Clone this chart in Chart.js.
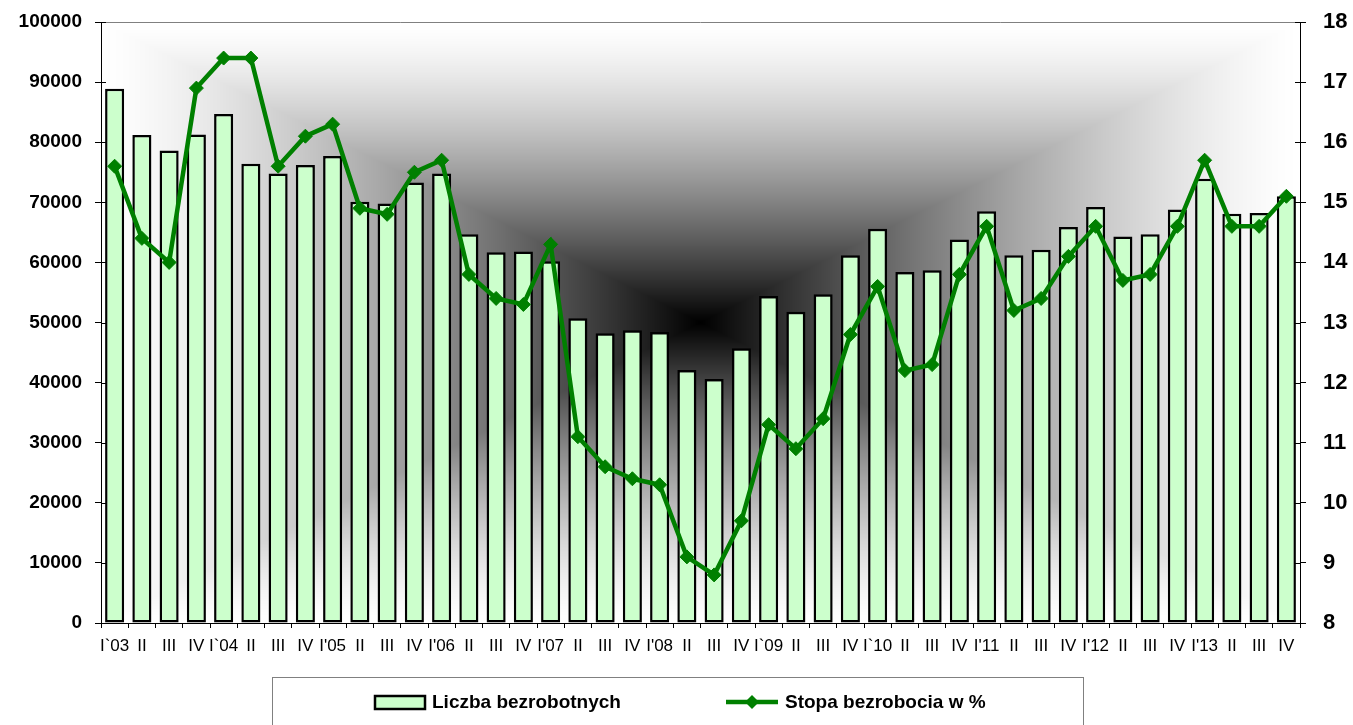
<!DOCTYPE html>
<html>
<head>
<meta charset="utf-8">
<title>Liczba bezrobotnych i stopa bezrobocia</title>
<script src="https://cdn.jsdelivr.net/npm/chart.js@4.4.1/dist/chart.umd.min.js"></script>
<style>
  html, body { margin: 0; padding: 0; background: #fff; }
  #wrap { width: 1353px; height: 725px; position: relative; }
</style>
</head>
<body>
<div id="wrap"><canvas id="chart"></canvas></div>
<script>
// quarters 2003 - 2013
const quarters = [
  "I`03", "II", "III", "IV", "I`04", "II", "III", "IV",
  "I'05", "II", "III", "IV", "I'06", "II", "III", "IV",
  "I'07", "II", "III", "IV", "I'08", "II", "III", "IV",
  "I`09", "II", "III", "IV", "I`10", "II", "III", "IV",
  "I'11", "II", "III", "IV", "I'12", "II", "III", "IV",
  "I'13", "II", "III", "IV"
];

// Liczba bezrobotnych (left axis)
const unemployed = [
  88900, 81200, 78600, 81300, 84700, 76400, 74800, 76200,
  77700, 70100, 69800, 73300, 74800, 64700, 61700, 61800,
  60200, 50700, 48200, 48700, 48400, 42100, 40600, 45700,
  54400, 51800, 54700, 61200, 65600, 58400, 58700, 63800,
  68500, 61200, 62100, 65900, 69200, 64300, 64700, 68800,
  73900, 68100, 68200, 71000
];

// Stopa bezrobocia w % (right axis)
const rate = [
  15.6, 14.4, 14.0, 16.9, 17.4, 17.4, 15.6, 16.1,
  16.3, 14.9, 14.8, 15.5, 15.7, 13.8, 13.4, 13.3,
  14.3, 11.1, 10.6, 10.4, 10.3, 9.1, 8.8, 9.7,
  11.3, 10.9, 11.4, 12.8, 13.6, 12.2, 12.3, 13.8,
  14.6, 13.2, 13.4, 14.1, 14.6, 13.7, 13.8, 14.6,
  15.7, 14.6, 14.6, 15.1
];

const countAxis = [0, 100000, 10000];   // min, max, step
const rateAxis = [8, 18, 1];

const FONT = "'Liberation Sans', Arial, sans-serif";
const BAR_FILL = "#CCFFCC";
const LINE_GREEN = "#008000";

// grey "from center" fill behind the plot
const backdrop = {
  id: "backdrop",
  beforeDraw(chart) {
    const a = chart.chartArea;
    const w = Math.round(a.right - a.left);
    const h = Math.round(a.bottom - a.top);
    if (!this.img || this.img.width !== w || this.img.height !== h) {
      const c = document.createElement("canvas");
      c.width = w;
      c.height = h;
      const g = c.getContext("2d");
      const img = g.createImageData(w, h);
      const hw = w / 2, hh = h / 2;
      for (let y = 0; y < h; y++) {
        for (let x = 0; x < w; x++) {
          const t = Math.min(1, Math.max(Math.abs(x + 0.5 - hw) / hw, Math.abs(y + 0.5 - hh) / hh));
          const v = Math.round(255 * (1 - Math.pow(1 - t, 1.4)));
          const i = (y * w + x) * 4;
          img.data[i] = v;
          img.data[i + 1] = v;
          img.data[i + 2] = v;
          img.data[i + 3] = 255;
        }
      }
      g.putImageData(img, 0, 0);
      this.img = c;
    }
    chart.ctx.drawImage(this.img, a.left, a.top);
  },
  beforeDatasetsDraw(chart) {
    const { ctx, chartArea: a, scales } = chart;
    ctx.save();
    // top frame line
    ctx.strokeStyle = "#808080";
    ctx.lineWidth = 1;
    ctx.beginPath();
    ctx.moveTo(a.left, a.top + 0.5);
    ctx.lineTo(a.right, a.top + 0.5);
    ctx.stroke();
    // inner halves of the value axis ticks
    ctx.strokeStyle = "#000";
    ctx.beginPath();
    scales.y.ticks.forEach((t) => {
      const py = Math.round(scales.y.getPixelForValue(t.value)) + 0.5;
      ctx.moveTo(a.left, py);
      ctx.lineTo(a.left + 5, py);
    });
    scales.y1.ticks.forEach((t) => {
      const py = Math.round(scales.y1.getPixelForValue(t.value)) + 0.5;
      ctx.moveTo(a.right - 5, py);
      ctx.lineTo(a.right, py);
    });
    ctx.stroke();
    ctx.restore();
  }
};

// boxed legend under the axis
const boxLegend = {
  id: "boxLegend",
  afterDraw(chart) {
    const ctx = chart.ctx;
    const [bars, line] = chart.data.datasets;
    const cy = 702;
    ctx.save();
    ctx.strokeStyle = "#808080";
    ctx.lineWidth = 1;
    ctx.strokeRect(272.5, 677.5, 811, 60);

    ctx.fillStyle = bars.backgroundColor;
    ctx.fillRect(375, cy - 6, 50, 13);
    ctx.strokeStyle = bars.borderColor;
    ctx.lineWidth = 2.5;
    ctx.strokeRect(375, cy - 6, 50, 13);

    ctx.strokeStyle = line.borderColor;
    ctx.lineWidth = 4.5;
    ctx.beginPath();
    ctx.moveTo(726, cy);
    ctx.lineTo(778, cy);
    ctx.stroke();
    ctx.fillStyle = line.borderColor;
    ctx.beginPath();
    ctx.moveTo(752, cy - 7);
    ctx.lineTo(759, cy);
    ctx.lineTo(752, cy + 7);
    ctx.lineTo(745, cy);
    ctx.closePath();
    ctx.fill();

    ctx.fillStyle = "#000";
    ctx.font = "bold 19px " + FONT;
    ctx.textBaseline = "middle";
    ctx.textAlign = "left";
    ctx.fillText(bars.label, 432, cy + 1);
    ctx.fillText(line.label, 785, cy + 1);
    ctx.restore();
  }
};

// value axes: fixed width, no extra room above/below for the end labels
function fixVertical(width) {
  return (s) => {
    s.width = width;
    s.paddingTop = 0;
    s.paddingBottom = 0;
  };
}

new Chart(document.getElementById("chart"), {
  type: "bar",
  data: {
    labels: quarters,
    datasets: [
      {
        label: "Liczba bezrobotnych",
        data: unemployed,
        yAxisID: "y",
        order: 2,
        backgroundColor: BAR_FILL,
        borderColor: "#000",
        borderWidth: 2.5,
        borderSkipped: false,
        barPercentage: 0.7,
        categoryPercentage: 1.0
      },
      {
        type: "line",
        label: "Stopa bezrobocia w %",
        data: rate,
        yAxisID: "y1",
        order: 1,
        borderColor: LINE_GREEN,
        backgroundColor: LINE_GREEN,
        borderWidth: 4.5,
        tension: 0,
        pointStyle: "rectRot",
        pointRadius: 7,
        pointBorderWidth: 1,
        pointBackgroundColor: LINE_GREEN,
        pointBorderColor: LINE_GREEN
      }
    ]
  },
  options: {
    responsive: true,
    maintainAspectRatio: false,
    animation: false,
    layout: { padding: { top: 22, bottom: 52, left: 0, right: 0 } },
    plugins: {
      legend: { display: false },
      tooltip: { enabled: false }
    },
    scales: {
      x: {
        offset: true,
        grid: { drawOnChartArea: false, drawTicks: true, tickLength: 5, color: "#000", offset: true },
        border: { color: "#000", width: 1 },
        ticks: {
          autoSkip: false,
          maxRotation: 0,
          minRotation: 0,
          color: "#000",
          padding: 8,
          font: { family: FONT, size: 17 }
        },
        afterFit(s) { s.height = 50; }
      },
      y: {
        position: "left",
        min: countAxis[0],
        max: countAxis[1],
        grid: { drawOnChartArea: false, drawTicks: true, tickLength: 6, color: "#000" },
        border: { color: "#000", width: 1 },
        ticks: {
          stepSize: countAxis[2],
          color: "#000",
          padding: 13,
          font: { family: FONT, size: 19, weight: "bold" },
          callback: (v) => String(v)
        },
        afterFit: fixVertical(101)
      },
      y1: {
        position: "right",
        min: rateAxis[0],
        max: rateAxis[1],
        grid: { drawOnChartArea: false, drawTicks: true, tickLength: 6, color: "#000" },
        border: { color: "#000", width: 1 },
        ticks: {
          stepSize: rateAxis[2],
          color: "#000",
          padding: 17,
          font: { family: FONT, size: 22, weight: "bold" },
          callback: (v) => String(v)
        },
        afterFit: fixVertical(53)
      }
    }
  },
  plugins: [backdrop, boxLegend]
});
</script>
</body>
</html>
